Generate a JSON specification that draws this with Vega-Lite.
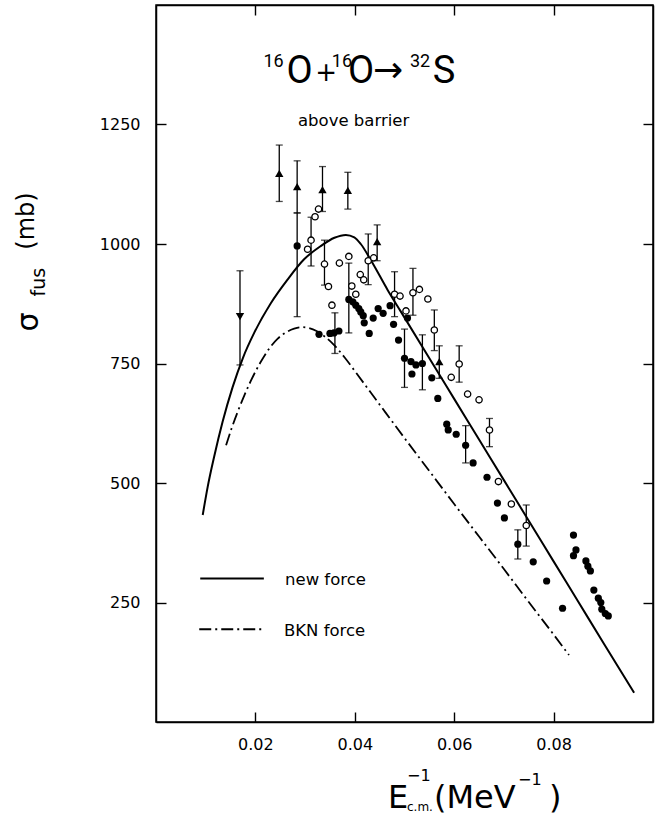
{
  "$schema": "https://vega.github.io/schema/vega-lite/v6.json",
  "width": 497,
  "height": 717,
  "autosize": {"type": "none"},
  "padding": {"left": 156, "top": 5, "right": 7, "bottom": 94},
  "background": "white",
  "config": {
    "view": {"stroke": "black", "strokeWidth": 1.5},
    "font": "DejaVu Sans",
    "text": {"font": "DejaVu Sans", "color": "black"},
    "axis": {
      "grid": false,
      "domainColor": "black",
      "domainWidth": 1.5,
      "tickColor": "black",
      "tickWidth": 1.4,
      "tickSize": -10,
      "labelColor": "black",
      "labelFont": "DejaVu Sans",
      "labelFontSize": 16
    }
  },
  "datasets": {
    "newForce": [
      {"x": 0.0094, "y": 433}, {"x": 0.0104, "y": 492}, {"x": 0.0117, "y": 555}, {"x": 0.0134, "y": 628},
      {"x": 0.0154, "y": 700}, {"x": 0.0175, "y": 762}, {"x": 0.0198, "y": 815}, {"x": 0.0231, "y": 876},
      {"x": 0.0265, "y": 926}, {"x": 0.0298, "y": 968}, {"x": 0.0332, "y": 996}, {"x": 0.0359, "y": 1013},
      {"x": 0.0382, "y": 1019}, {"x": 0.0399, "y": 1014}, {"x": 0.0412, "y": 1000}, {"x": 0.0433, "y": 965},
      {"x": 0.0466, "y": 904}, {"x": 0.0493, "y": 858}, {"x": 0.055, "y": 761}, {"x": 0.06, "y": 676},
      {"x": 0.065, "y": 591}, {"x": 0.07, "y": 506}, {"x": 0.075, "y": 421}, {"x": 0.08, "y": 336},
      {"x": 0.085, "y": 251}, {"x": 0.09, "y": 166}, {"x": 0.0962, "y": 61}
    ],
    "bkn": [
      {"x": 0.0141, "y": 579}, {"x": 0.0152, "y": 614}, {"x": 0.0164, "y": 648}, {"x": 0.0178, "y": 684},
      {"x": 0.0191, "y": 714}, {"x": 0.021, "y": 752}, {"x": 0.0229, "y": 783}, {"x": 0.0245, "y": 802},
      {"x": 0.0263, "y": 816}, {"x": 0.0278, "y": 823}, {"x": 0.0293, "y": 826}, {"x": 0.0308, "y": 824},
      {"x": 0.0323, "y": 818}, {"x": 0.034, "y": 806}, {"x": 0.0357, "y": 790}, {"x": 0.038, "y": 762},
      {"x": 0.0403, "y": 730}, {"x": 0.045, "y": 664}, {"x": 0.05, "y": 594}, {"x": 0.055, "y": 525},
      {"x": 0.06, "y": 456}, {"x": 0.065, "y": 388}, {"x": 0.07, "y": 320}, {"x": 0.075, "y": 251},
      {"x": 0.08, "y": 183}, {"x": 0.0831, "y": 140}
    ],
    "bars": [
      {"x": 0.0248, "lo": 1089, "hi": 1207}, {"x": 0.0284, "lo": 1065, "hi": 1174},
      {"x": 0.0335, "lo": 1068, "hi": 1162}, {"x": 0.0386, "lo": 1073, "hi": 1150},
      {"x": 0.0445, "lo": 965, "hi": 1040}, {"x": 0.057, "lo": 719, "hi": 787},
      {"x": 0.0169, "lo": 747, "hi": 944},
      {"x": 0.0284, "lo": 848, "hi": 1065}, {"x": 0.036, "lo": 771, "hi": 856},
      {"x": 0.0388, "lo": 814, "hi": 960}, {"x": 0.05, "lo": 700, "hi": 822},
      {"x": 0.0536, "lo": 695, "hi": 810}, {"x": 0.0623, "lo": 542, "hi": 620},
      {"x": 0.0728, "lo": 341, "hi": 402},
      {"x": 0.0312, "lo": 954, "hi": 1056}, {"x": 0.0339, "lo": 914, "hi": 1008},
      {"x": 0.0427, "lo": 915, "hi": 1021}, {"x": 0.048, "lo": 848, "hi": 942},
      {"x": 0.0517, "lo": 851, "hi": 949}, {"x": 0.056, "lo": 777, "hi": 862},
      {"x": 0.061, "lo": 711, "hi": 787}, {"x": 0.0671, "lo": 576, "hi": 635},
      {"x": 0.0745, "lo": 368, "hi": 454}
    ],
    "triUp": [
      {"x": 0.0248, "y": 1148}, {"x": 0.0284, "y": 1120}, {"x": 0.0335, "y": 1114},
      {"x": 0.0386, "y": 1112}, {"x": 0.0445, "y": 1005}, {"x": 0.057, "y": 754}
    ],
    "triDown": [{"x": 0.0169, "y": 848}],
    "filled": [
      {"x": 0.0284, "y": 996}, {"x": 0.0328, "y": 811}, {"x": 0.035, "y": 813}, {"x": 0.0358, "y": 814},
      {"x": 0.0368, "y": 818}, {"x": 0.0388, "y": 884}, {"x": 0.0396, "y": 879}, {"x": 0.0402, "y": 872},
      {"x": 0.0408, "y": 865}, {"x": 0.0412, "y": 858}, {"x": 0.0417, "y": 850}, {"x": 0.0419, "y": 835},
      {"x": 0.0429, "y": 813}, {"x": 0.0437, "y": 845}, {"x": 0.0447, "y": 865}, {"x": 0.0457, "y": 855},
      {"x": 0.0471, "y": 871}, {"x": 0.0478, "y": 832}, {"x": 0.0488, "y": 799}, {"x": 0.05, "y": 761},
      {"x": 0.0506, "y": 845}, {"x": 0.0513, "y": 754}, {"x": 0.0523, "y": 747}, {"x": 0.0536, "y": 750},
      {"x": 0.0515, "y": 728}, {"x": 0.0555, "y": 720}, {"x": 0.0567, "y": 677}, {"x": 0.0585, "y": 623},
      {"x": 0.0588, "y": 611}, {"x": 0.0604, "y": 602}, {"x": 0.0623, "y": 579}, {"x": 0.0638, "y": 542},
      {"x": 0.0666, "y": 512}, {"x": 0.0687, "y": 458}, {"x": 0.0701, "y": 427}, {"x": 0.0728, "y": 372},
      {"x": 0.0759, "y": 335}, {"x": 0.0786, "y": 295}, {"x": 0.0818, "y": 238}, {"x": 0.084, "y": 391},
      {"x": 0.0845, "y": 360}, {"x": 0.084, "y": 348}, {"x": 0.0865, "y": 337}, {"x": 0.0869, "y": 326},
      {"x": 0.0874, "y": 316}, {"x": 0.0881, "y": 276}, {"x": 0.089, "y": 259}, {"x": 0.0895, "y": 250},
      {"x": 0.0897, "y": 236}, {"x": 0.0904, "y": 227}, {"x": 0.091, "y": 222}
    ],
    "open": [
      {"x": 0.0305, "y": 989}, {"x": 0.0312, "y": 1008}, {"x": 0.032, "y": 1057}, {"x": 0.0327, "y": 1073},
      {"x": 0.0339, "y": 958}, {"x": 0.0347, "y": 911}, {"x": 0.0354, "y": 872}, {"x": 0.0369, "y": 960},
      {"x": 0.0388, "y": 974}, {"x": 0.0394, "y": 912}, {"x": 0.0402, "y": 895}, {"x": 0.0411, "y": 936},
      {"x": 0.0418, "y": 925}, {"x": 0.0427, "y": 965}, {"x": 0.0438, "y": 971}, {"x": 0.048, "y": 895},
      {"x": 0.0491, "y": 891}, {"x": 0.0503, "y": 860}, {"x": 0.0517, "y": 898}, {"x": 0.053, "y": 905},
      {"x": 0.0547, "y": 885}, {"x": 0.056, "y": 820}, {"x": 0.0594, "y": 721}, {"x": 0.061, "y": 749},
      {"x": 0.0627, "y": 686}, {"x": 0.065, "y": 674}, {"x": 0.0671, "y": 611}, {"x": 0.0689, "y": 503},
      {"x": 0.0715, "y": 456}, {"x": 0.0745, "y": 411}
    ],
    "legendLines": [
      {"x": 0.0089, "y": 300, "series": "new force"}, {"x": 0.0217, "y": 300, "series": "new force"},
      {"x": 0.0087, "y": 194, "series": "BKN force"}, {"x": 0.0215, "y": 194, "series": "BKN force"}
    ],
    "titleBig": [
      {"x": 0.02887, "y": 1337, "t": "O"}, {"x": 0.04125, "y": 1337, "t": "O"}, {"x": 0.05795, "y": 1337, "t": "S"}
    ],
    "titlePlus": [
      {"x": 0.03421, "y": 1341, "t": "+"}
    ],
    "titleArrow": [
      {"x": 0.04668, "y": 1339, "t": "→"}
    ],
    "titleSup": [
      {"x": 0.02364, "y": 1370, "t": "16"}, {"x": 0.03742, "y": 1370, "t": "16"},
      {"x": 0.05312, "y": 1370, "t": "32"}
    ],
    "smallText": [
      {"x": 0.02857, "y": 1247, "t": "above  barrier"},
      {"x": 0.02596, "y": 287, "t": "new  force"},
      {"x": 0.02575, "y": 180, "t": "BKN force"}
    ],
    "xTitleBig": [
      {"x": 0.04668, "y": -180, "t": "E"}, {"x": 0.05594, "y": -180, "t": "(MeV"},
      {"x": 0.07907, "y": -180, "t": ")"}
    ],
    "xTitleSup": [
      {"x": 0.0505, "y": -123, "t": "−1"}, {"x": 0.07284, "y": -132, "t": "−1"}
    ],
    "xTitleSub": [
      {"x": 0.0505, "y": -186, "t": "c.m."}
    ],
    "ySigma": [{"x": -0.02555, "y": 837, "t": "σ"}],
    "yUnit": [{"x": -0.02596, "y": 1048, "t": "(mb)"}],
    "ySub": [{"x": -0.02354, "y": 920, "t": "fus"}]
  },
  "encoding": {
    "x": {"field": "x", "type": "quantitative", "scale": {"domain": [0, 0.1], "nice": false, "zero": false}, "axis": null},
    "y": {"field": "y", "type": "quantitative", "scale": {"domain": [0, 1500], "nice": false, "zero": false}, "axis": null}
  },
  "layer": [
    {
      "data": {"name": "newForce"},
      "mark": {"type": "line", "color": "black", "strokeWidth": 2, "interpolate": "monotone"},
      "encoding": {
        "x": {"field": "x", "type": "quantitative", "scale": {"domain": [0, 0.1], "nice": false, "zero": false},
              "axis": {"orient": "bottom", "values": [0.02, 0.04, 0.06, 0.08], "format": ".2f", "title": null, "labelPadding": 24}},
        "y": {"field": "y", "type": "quantitative", "scale": {"domain": [0, 1500], "nice": false, "zero": false},
              "axis": {"orient": "left", "values": [250, 500, 750, 1000, 1250], "format": "d", "title": null, "labelPadding": 26}}
      }
    },
    {
      "data": {"name": "bkn"},
      "mark": {"type": "line", "color": "black", "strokeWidth": 1.8, "interpolate": "monotone", "strokeDash": [12, 4, 2, 4]},
      "encoding": {
        "x": {"field": "x", "type": "quantitative", "scale": {"domain": [0, 0.1], "nice": false, "zero": false},
              "axis": {"orient": "top", "values": [0.02, 0.04, 0.06, 0.08], "labels": false, "title": null}},
        "y": {"field": "y", "type": "quantitative", "scale": {"domain": [0, 1500], "nice": false, "zero": false},
              "axis": {"orient": "right", "values": [250, 500, 750, 1000, 1250], "labels": false, "title": null}}
      }
    },
    {
      "data": {"name": "bars"},
      "mark": {"type": "rule", "color": "black", "strokeWidth": 1.3},
      "encoding": {
        "y": {"field": "lo", "type": "quantitative", "scale": {"domain": [0, 1500], "nice": false, "zero": false}, "axis": null},
        "y2": {"field": "hi"}
      }
    },
    {
      "data": {"name": "bars"},
      "mark": {"type": "tick", "orient": "horizontal", "color": "black", "size": 7, "thickness": 1.3},
      "encoding": {
        "y": {"field": "lo", "type": "quantitative", "scale": {"domain": [0, 1500], "nice": false, "zero": false}, "axis": null}
      }
    },
    {
      "data": {"name": "bars"},
      "mark": {"type": "tick", "orient": "horizontal", "color": "black", "size": 7, "thickness": 1.3},
      "encoding": {
        "y": {"field": "hi", "type": "quantitative", "scale": {"domain": [0, 1500], "nice": false, "zero": false}, "axis": null}
      }
    },
    {
      "data": {"name": "filled"},
      "mark": {"type": "point", "shape": "circle", "filled": true, "color": "black", "size": 52, "opacity": 1}
    },
    {
      "data": {"name": "open"},
      "mark": {"type": "point", "shape": "circle", "fill": "white", "fillOpacity": 1, "stroke": "black", "strokeWidth": 1.3, "size": 40, "opacity": 1}
    },
    {
      "data": {"name": "triUp"},
      "mark": {"type": "point", "shape": "triangle-up", "filled": true, "color": "black", "size": 70, "opacity": 1}
    },
    {
      "data": {"name": "triDown"},
      "mark": {"type": "point", "shape": "triangle-down", "filled": true, "color": "black", "size": 70, "opacity": 1}
    },
    {
      "data": {"name": "legendLines"},
      "transform": [{"filter": "datum.series === 'new force'"}],
      "mark": {"type": "line", "color": "black", "strokeWidth": 2}
    },
    {
      "data": {"name": "legendLines"},
      "transform": [{"filter": "datum.series === 'BKN force'"}],
      "mark": {"type": "line", "color": "black", "strokeWidth": 1.8, "strokeDash": [12, 4, 2, 4]}
    },
    {
      "data": {"name": "titleBig"},
      "mark": {"type": "text", "font": "Roboto", "fontSize": 38, "align": "center", "baseline": "alphabetic"},
      "encoding": {"text": {"field": "t"}}
    },
    {
      "data": {"name": "titlePlus"},
      "mark": {"type": "text", "font": "DejaVu Sans", "fontSize": 26, "align": "center", "baseline": "alphabetic"},
      "encoding": {"text": {"field": "t"}}
    },
    {
      "data": {"name": "titleArrow"},
      "mark": {"type": "text", "font": "DejaVu Sans", "fontSize": 36, "align": "center", "baseline": "alphabetic"},
      "encoding": {"text": {"field": "t"}}
    },
    {
      "data": {"name": "titleSup"},
      "mark": {"type": "text", "font": "Roboto", "fontSize": 18, "align": "center", "baseline": "alphabetic"},
      "encoding": {"text": {"field": "t"}}
    },
    {
      "data": {"name": "smallText"},
      "mark": {"type": "text", "fontSize": 16.5, "align": "left", "baseline": "alphabetic"},
      "encoding": {"text": {"field": "t"}}
    },
    {
      "data": {"name": "xTitleBig"},
      "mark": {"type": "text", "fontSize": 32, "align": "left", "baseline": "alphabetic"},
      "encoding": {"text": {"field": "t"}}
    },
    {
      "data": {"name": "xTitleSup"},
      "mark": {"type": "text", "fontSize": 16, "align": "left", "baseline": "alphabetic"},
      "encoding": {"text": {"field": "t"}}
    },
    {
      "data": {"name": "xTitleSub"},
      "mark": {"type": "text", "fontSize": 12, "align": "left", "baseline": "alphabetic"},
      "encoding": {"text": {"field": "t"}}
    },
    {
      "data": {"name": "ySigma"},
      "mark": {"type": "text", "fontSize": 30, "align": "center", "baseline": "middle", "angle": 270},
      "encoding": {"text": {"field": "t"}}
    },
    {
      "data": {"name": "yUnit"},
      "mark": {"type": "text", "fontSize": 24, "align": "center", "baseline": "middle", "angle": 270},
      "encoding": {"text": {"field": "t"}}
    },
    {
      "data": {"name": "ySub"},
      "mark": {"type": "text", "fontSize": 19, "align": "center", "baseline": "middle", "angle": 270},
      "encoding": {"text": {"field": "t"}}
    }
  ],
  "resolve": {"axis": {"x": "independent", "y": "independent"}}
}
